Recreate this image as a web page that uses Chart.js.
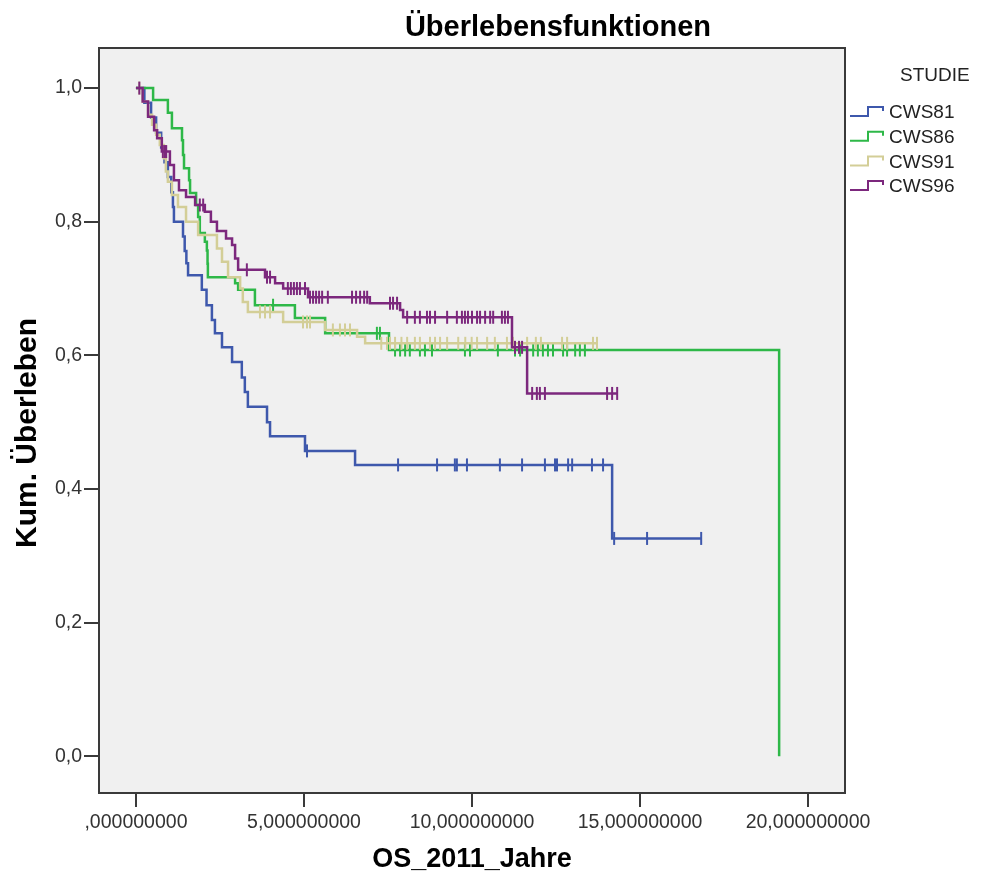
<!DOCTYPE html>
<html>
<head>
<meta charset="utf-8">
<title>Überlebensfunktionen</title>
<script src="https://cdn.jsdelivr.net/npm/chart.js@4.4.1/dist/chart.umd.min.js"></script>
<style>
  html, body { margin: 0; padding: 0; background: #ffffff; }
  #wrap { width: 984px; height: 876px; position: relative; }
</style>
</head>
<body>
<div id="wrap"><canvas id="km" width="984" height="876"></canvas></div>
<script>
// Kaplan-Meier estimates per study: step times (years), survival after each step,
// and the times of censored observations.
const studies = ['CWS81', 'CWS86', 'CWS91', 'CWS96'];
const studyColors = ['#3E58AC', '#2EB848', '#D3CE97', '#7C287D'];

const cws81Times = [0, 0.25, 0.45, 0.6, 0.75, 0.85, 0.95, 1.05, 1.10, 1.13, 1.40, 1.45, 1.50, 1.55, 1.96, 2.10, 2.26, 2.35, 2.56, 2.86, 3.15, 3.24, 3.33, 3.90, 3.99, 5.03, 6.52, 14.17, 16.82];
const cws81Surv  = [1, 0.978, 0.956, 0.933, 0.911, 0.889, 0.867, 0.844, 0.822, 0.80, 0.778, 0.756, 0.738, 0.72, 0.698, 0.675, 0.653, 0.633, 0.612, 0.59, 0.567, 0.545, 0.523, 0.50, 0.479, 0.457, 0.436, 0.326, 0.326];
const cws81Censored = [5.09, 7.8, 8.96, 9.49, 9.55, 9.85, 10.83, 11.49, 12.17, 12.47, 12.53, 12.86, 12.98, 13.57, 13.9, 14.23, 15.21, 16.82];

const cws86Times = [0, 0.51, 0.95, 1.07, 1.37, 1.40, 1.43, 1.58, 1.61, 1.79, 1.85, 1.90, 2.05, 2.11, 2.13, 2.14, 2.95, 3.04, 3.54, 4.73, 5.63, 7.53, 19.14];
const cws86Surv  = [1, 0.982, 0.963, 0.94, 0.922, 0.90, 0.88, 0.862, 0.843, 0.825, 0.807, 0.783, 0.77, 0.757, 0.737, 0.717, 0.708, 0.698, 0.675, 0.656, 0.633, 0.608, 0];
const cws86Censored = [4.08, 7.17, 7.26, 7.71, 7.86, 8.01, 8.15, 8.45, 8.60, 8.81, 9.79, 9.94, 10.77, 11.28, 11.43, 11.82, 11.96, 12.11, 12.26, 12.41, 12.71, 12.83, 13.07, 13.21, 13.36];

const cws91Times = [0, 0.2, 0.36, 0.48, 0.6, 0.71, 0.83, 0.89, 0.95, 1.07, 1.25, 1.49, 1.85, 2.41, 2.56, 2.74, 3.10, 3.18, 3.33, 4.38, 5.63, 6.58, 6.82, 13.72];
const cws91Surv  = [1, 0.98, 0.96, 0.945, 0.93, 0.915, 0.895, 0.875, 0.86, 0.84, 0.822, 0.80, 0.78, 0.76, 0.74, 0.717, 0.70, 0.68, 0.665, 0.65, 0.638, 0.628, 0.618, 0.618];
const cws91Censored = [0.1, 3.69, 3.84, 3.99, 4.97, 5.09, 5.18, 5.86, 6.07, 6.22, 6.37, 7.30, 7.47, 7.56, 7.71, 7.90, 8.07, 8.30, 8.45, 8.75, 8.90, 9.05, 9.26, 9.59, 9.80, 9.99, 10.15, 10.45, 10.68, 11.04, 11.22, 11.64, 11.90, 12.05, 12.68, 12.83, 13.60, 13.72];

const cws96Times = [0, 0.2, 0.36, 0.54, 0.63, 0.77, 1.01, 1.13, 1.28, 1.49, 1.76, 2.05, 2.23, 2.41, 2.68, 2.86, 2.95, 3.04, 3.84, 4.14, 4.38, 5.12, 6.96, 7.86, 7.95, 11.19, 11.64, 14.32];
const cws96Surv  = [1, 0.98, 0.957, 0.937, 0.925, 0.905, 0.885, 0.862, 0.847, 0.837, 0.825, 0.815, 0.80, 0.786, 0.775, 0.765, 0.745, 0.728, 0.717, 0.708, 0.70, 0.687, 0.678, 0.668, 0.657, 0.612, 0.543, 0.543];
const cws96Censored = [0.1, 0.8, 0.86, 0.9, 1.9, 2.0, 3.30, 3.90, 3.99, 4.52, 4.61, 4.70, 4.79, 4.88, 5.03, 5.18, 5.27, 5.36, 5.45, 5.54, 5.71, 6.43, 6.55, 6.67, 6.79, 6.88, 7.56, 7.65, 7.77, 8.07, 8.30, 8.45, 8.66, 8.75, 8.90, 9.26, 9.55, 9.70, 9.79, 9.88, 10.0, 10.15, 10.24, 10.39, 10.54, 10.63, 10.89, 10.98, 11.07, 11.28, 11.40, 11.49, 11.79, 11.93, 12.02, 12.17, 14.02, 14.17, 14.32];

const xTickValues = [0, 5, 10, 15, 20];
const xTickLabels = [',000000000', '5,000000000', '10,000000000', '15,000000000', '20,000000000'];
const yTickValues = [0, 0.2, 0.4, 0.6, 0.8, 1.0];
const yTickLabels = ['0,0', '0,2', '0,4', '0,6', '0,8', '1,0'];

const chartTitle = 'Überlebensfunktionen';
const legendTitle = 'STUDIE';
const xAxisTitle = 'OS_2011_Jahre';
const yAxisTitle = 'Kum. Überleben';

const FONT = "'Liberation Sans', Arial, sans-serif";

const curveTimes = [cws81Times, cws86Times, cws91Times, cws96Times];
const curveSurv = [cws81Surv, cws86Surv, cws91Surv, cws96Surv];
const curveCensored = [cws81Censored, cws86Censored, cws91Censored, cws96Censored];

// survival estimate in effect at time t (right-continuous step function)
function survivalAt(times, surv, t) {
  let s = surv[0];
  for (let i = 0; i < times.length; i++) {
    if (times[i] <= t + 1e-9) s = surv[i];
    else break;
  }
  return s;
}

const datasets = [];
studies.forEach((name, k) => {
  // later studies sit on top, as in the legend order
  const layer = 10 - k * 2;
  datasets.push({
    label: name,
    data: curveTimes[k].map((t, i) => ({ x: t, y: curveSurv[k][i] })),
    stepped: 'before', // hold the previous level, then drop at the event time
    borderColor: studyColors[k],
    borderWidth: 2.5,
    pointRadius: 0,
    fill: false,
    order: layer
  });
  datasets.push({
    label: name + ' zensiert',
    data: curveCensored[k].map(t => ({ x: t, y: survivalAt(curveTimes[k], curveSurv[k], t) })),
    showLine: false,
    pointStyle: 'line',
    rotation: 90,
    pointRadius: 6.5,
    pointBorderWidth: 2,
    borderColor: studyColors[k],
    backgroundColor: studyColors[k],
    order: layer - 1
  });
});

const panelPlugin = {
  id: 'panel',
  beforeDraw(chart) {
    const { ctx, chartArea: a } = chart;
    ctx.save();
    ctx.fillStyle = '#ffffff';
    ctx.fillRect(0, 0, chart.width, chart.height);
    ctx.fillStyle = '#F0F0F0';
    ctx.fillRect(a.left, a.top, a.right - a.left, a.bottom - a.top);
    ctx.restore();
  },
  afterDatasetsDraw(chart) {
    const { ctx, chartArea: a } = chart;
    ctx.save();
    ctx.strokeStyle = '#3a3a3a';
    ctx.lineWidth = 2;
    ctx.strokeRect(a.left, a.top, a.right - a.left, a.bottom - a.top);
    ctx.restore();
  },
  afterDraw(chart) {
    const { ctx } = chart;
    ctx.save();
    // chart heading
    ctx.fillStyle = '#000000';
    ctx.font = 'bold 29px ' + FONT;
    ctx.textAlign = 'center';
    ctx.textBaseline = 'middle';
    ctx.fillText(chartTitle, 558, 28);

    // vertical axis title
    ctx.save();
    ctx.translate(28, 433);
    ctx.rotate(-Math.PI / 2);
    ctx.font = 'bold 30px ' + FONT;
    ctx.fillText(yAxisTitle, 0, 0);
    ctx.restore();

    // legend: heading and one step symbol per study
    ctx.fillStyle = '#222222';
    ctx.font = '19px ' + FONT;
    ctx.textAlign = 'left';
    ctx.fillText(legendTitle, 900, 76);
    studies.forEach((name, k) => {
      const y = 112 + k * 24.7;
      ctx.strokeStyle = studyColors[k];
      ctx.lineWidth = 2;
      ctx.beginPath();
      ctx.moveTo(850, y + 4);
      ctx.lineTo(868, y + 4);
      ctx.lineTo(868, y - 5);
      ctx.lineTo(883, y - 5);
      ctx.lineTo(883, y - 1);
      ctx.stroke();
      ctx.fillStyle = '#222222';
      ctx.fillText(name, 889, y + 1);
    });
    ctx.restore();
  }
};

new Chart(document.getElementById('km'), {
  type: 'line',
  data: { datasets },
  options: {
    responsive: false,
    animation: false,
    devicePixelRatio: 1,
    layout: { padding: { left: 0, right: 139, top: 48, bottom: 0 } },
    plugins: {
      legend: { display: false },
      title: { display: false },
      tooltip: { enabled: false }
    },
    scales: {
      x: {
        type: 'linear',
        min: -1.1,
        max: 21.1,
        afterBuildTicks: s => { s.ticks = xTickValues.map(v => ({ value: v })); },
        afterFit: s => { s.height = 83; },
        ticks: {
          autoSkip: false,
          maxRotation: 0,
          padding: 4,
          color: '#333333',
          font: { family: FONT, size: 19.5 },
          callback: (v, i) => xTickLabels[i]
        },
        grid: { drawOnChartArea: false, drawTicks: true, tickLength: 14, color: '#3a3a3a', lineWidth: 2 },
        border: { display: false },
        title: { display: true, text: xAxisTitle, color: '#000000', font: { family: FONT, size: 27, weight: 'bold' }, padding: { top: 0, bottom: 0 } }
      },
      y: {
        type: 'linear',
        min: -0.055,
        max: 1.06,
        afterBuildTicks: s => { s.ticks = yTickValues.map(v => ({ value: v })); },
        afterFit: s => { s.width = 99; },
        ticks: {
          autoSkip: false,
          padding: 2,
          color: '#333333',
          font: { family: FONT, size: 19.5 },
          callback: (v, i) => yTickLabels[i]
        },
        grid: { drawOnChartArea: false, drawTicks: true, tickLength: 15, color: '#3a3a3a', lineWidth: 2 },
        border: { display: false },
        title: { display: false }
      }
    }
  },
  plugins: [panelPlugin]
});
</script>
</body>
</html>
